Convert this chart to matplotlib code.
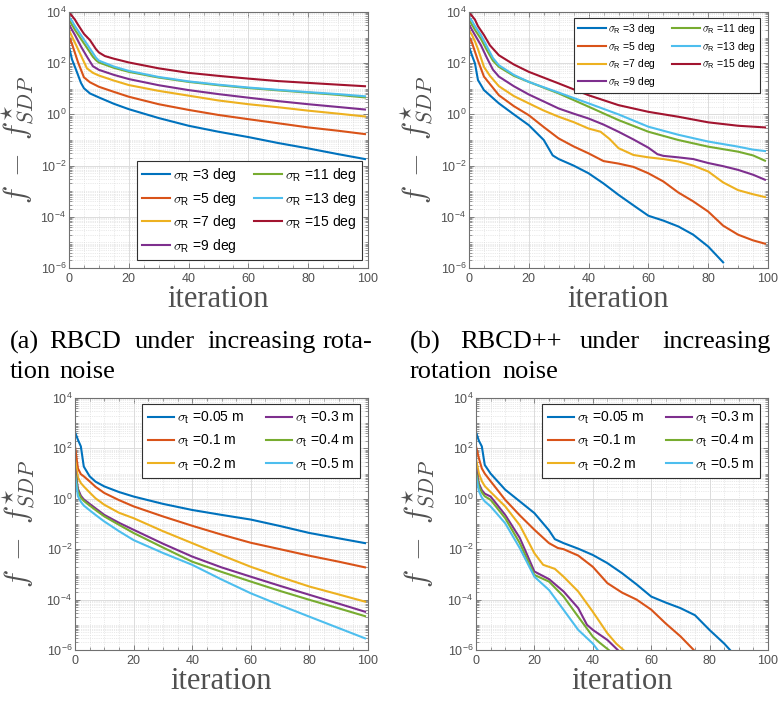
import math
import matplotlib
matplotlib.use('Agg')
import matplotlib.pyplot as plt
from matplotlib.ticker import FixedLocator, MultipleLocator, FuncFormatter, LogLocator, NullFormatter

plt.rcParams['font.family'] = ['Liberation Sans', 'DejaVu Sans']
plt.rcParams['mathtext.fontset'] = 'cm'

# MATLAB default colour order
colors = ['#0072BD', '#D95319', '#EDB120', '#7E2F8E', '#77AC30', '#4DBEEE', '#A2142F']

# ---- (a) RBCD, rotation noise ----
rot_labels = ['3', '5', '7', '9', '11', '13', '15']
a_it = [
    [0, 1, 2, 3, 4, 5, 7, 10, 15, 20, 30, 40, 50, 60, 70, 80, 90, 99],
    [0, 1, 2, 3, 5, 7, 10, 15, 20, 30, 40, 50, 60, 70, 80, 90, 99],
    [0, 1, 2, 4, 6, 8, 10, 15, 20, 30, 40, 50, 60, 70, 80, 90, 99],
    [0, 1, 2, 4, 6, 8, 10, 15, 20, 30, 40, 50, 60, 70, 80, 90, 99],
    [0, 1, 2, 4, 6, 8, 9, 10, 15, 20, 30, 40, 50, 60, 70, 80, 90, 99],
    [0, 1, 2, 4, 6, 8, 9, 10, 15, 20, 30, 40, 50, 60, 70, 80, 90, 99],
    [0, 1, 2, 3, 5, 7, 9, 10, 12, 15, 20, 30, 40, 50, 60, 70, 80, 90, 99],
]
a_val = [
    [440, 140, 71, 35, 17, 10.5, 6.6, 4.6, 2.6, 1.6, 0.72, 0.36, 0.21, 0.13, 0.076, 0.047, 0.028, 0.018],
    [1100, 560, 250, 110, 28, 18, 12, 7.6, 4.9, 2.5, 1.5, 0.95, 0.65, 0.45, 0.31, 0.23, 0.17],
    [1950, 1100, 630, 200, 63, 42, 33, 21, 14, 8.3, 5.4, 3.5, 2.5, 1.9, 1.4, 1.07, 0.83],
    [3300, 2000, 1260, 450, 180, 76, 55, 35, 24, 13.8, 8.9, 6.2, 4.5, 3.3, 2.5, 1.95, 1.55],
    [4800, 3200, 2000, 890, 400, 178, 132, 107, 66, 46, 27.5, 18.6, 13.8, 10.7, 8.7, 7.1, 5.8, 4.6],
    [6300, 4500, 2800, 1260, 560, 250, 166, 126, 74, 50, 29, 19.5, 14.5, 11.2, 9.1, 7.4, 6.2, 5.1],
    [9100, 7100, 5000, 3200, 1400, 800, 355, 263, 190, 150, 107, 63, 42, 32, 25, 20, 17, 14.5, 12.6],
]

# ---- (b) RBCD++, rotation noise ----
b_it = [
    [0, 1, 2, 3, 5, 10, 15, 20, 25, 28, 30, 35, 40, 45, 50, 55, 60, 65, 70, 75, 80, 85],
    [0, 1, 2, 3, 5, 10, 15, 20, 25, 30, 35, 40, 45, 50, 55, 60, 65, 70, 75, 80, 85, 90, 95, 99],
    [0, 1, 2, 3, 5, 7, 10, 15, 20, 25, 30, 35, 40, 44, 47, 50, 55, 60, 65, 70, 75, 80, 85, 90, 95, 99],
    [0, 1, 2, 4, 6, 8, 10, 15, 20, 25, 30, 35, 40, 45, 50, 55, 60, 63, 65, 70, 75, 80, 85, 90, 95, 99],
    [0, 1, 2, 4, 6, 8, 10, 15, 20, 30, 40, 50, 60, 70, 80, 90, 95, 99],
    [0, 1, 2, 4, 6, 8, 10, 15, 20, 30, 40, 50, 60, 70, 80, 90, 95, 99],
    [0, 1, 2, 3, 5, 7, 10, 15, 20, 30, 40, 50, 60, 70, 80, 90, 99],
]
b_val = [
    [440, 200, 98, 22, 8.9, 2.7, 1.0, 0.38, 0.1, 0.025, 0.018, 0.01, 0.005, 0.002, 7.2e-4, 2.8e-4,
     1.1e-4, 7.1e-5, 4.2e-5, 2.0e-5, 6.9e-6, 1.66e-6],
    [1100, 630, 280, 126, 30, 5.6, 2.1, 0.93, 0.32, 0.115, 0.056, 0.030, 0.015, 0.012, 0.0089, 0.005,
     0.0024, 8.9e-4, 4.0e-4, 1.6e-4, 4.5e-5, 2.0e-5, 1.2e-5, 8.9e-6],
    [1950, 1260, 710, 355, 72, 32, 12.6, 5.2, 2.7, 1.41, 0.81, 0.5, 0.28, 0.21, 0.11, 0.048, 0.026,
     0.021, 0.018, 0.0145, 0.01, 0.0059, 0.0022, 0.0011, 7.6e-4, 5.9e-4],
    [3300, 2000, 1260, 500, 160, 56, 30, 12.6, 6.0, 3.2, 1.7, 1.07, 0.69, 0.4, 0.21, 0.105, 0.05,
     0.028, 0.024, 0.021, 0.018, 0.0126, 0.0095, 0.0068, 0.0044, 0.0028],
    [4800, 3200, 2000, 890, 320, 126, 72, 32, 18.6, 6.6, 2.0, 0.6, 0.21, 0.1, 0.055, 0.035, 0.025, 0.0155],
    [6300, 4500, 2800, 1260, 450, 160, 83, 35, 18.6, 7.1, 2.7, 1.0, 0.33, 0.16, 0.087, 0.055, 0.042, 0.037],
    [9100, 7100, 5000, 2800, 1260, 500, 204, 89, 46, 16.2, 5.6, 2.3, 1.26, 0.81, 0.49, 0.36, 0.31],
]

# ---- (c) RBCD, translation noise ----
trans_labels = ['0.05', '0.1', '0.2', '0.3', '0.4', '0.5']
trans_colors = [colors[0], colors[1], colors[2], colors[3], colors[4], colors[5]]
c_it = [0, 1, 2, 3, 5, 7, 10, 15, 20, 30, 40, 50, 60, 70, 80, 90, 99]
c_val = [
    [440, 220, 120, 19, 7.8, 4.8, 3.1, 1.86, 1.23, 0.63, 0.36, 0.23, 0.15, 0.083, 0.044, 0.027, 0.0174],
    [120, 16, 9.5, 7.8, 4.9, 3.0, 1.7, 0.89, 0.5, 0.2, 0.085, 0.038, 0.018, 0.01, 0.0055, 0.0032, 0.0019],
    [38, 7.1, 4.2, 3.1, 1.78, 1.05, 0.58, 0.28, 0.17, 0.052, 0.0174, 0.0058, 0.002, 7.9e-4, 3.3e-4, 1.6e-4, 8.3e-5],
    [16.6, 2.5, 1.32, 0.95, 0.63, 0.42, 0.23, 0.112, 0.059, 0.0166, 0.0051, 0.0019, 8.1e-4, 3.5e-4, 1.55e-4, 6.9e-5, 3.3e-5],
    [12.3, 2.0, 1.12, 0.83, 0.54, 0.36, 0.2, 0.093, 0.044, 0.0117, 0.0032, 0.00126, 5.2e-4, 2.2e-4, 9.8e-5, 4.5e-5, 2.2e-5],
    [8.9, 1.26, 0.76, 0.54, 0.35, 0.23, 0.126, 0.052, 0.023, 0.0071, 0.0024, 6.3e-4, 1.78e-4, 6.0e-5, 2.1e-5, 7.4e-6, 2.9e-6],
]

# ---- (d) RBCD++, translation noise ----
d_it = [
    [0, 1, 2, 3, 5, 10, 15, 20, 25, 27, 30, 35, 40, 45, 50, 55, 60, 65, 70, 75, 80, 85, 87],
    [0, 1, 2, 3, 5, 10, 15, 20, 25, 28, 30, 35, 40, 45, 50, 55, 60, 65, 70, 75],
    [0, 1, 2, 3, 5, 10, 15, 20, 23, 27, 30, 35, 40, 45, 48, 51],
    [0, 1, 2, 3, 5, 10, 15, 20, 25, 30, 35, 38, 40, 45, 49],
    [0, 1, 2, 3, 5, 10, 15, 20, 25, 30, 35, 40, 42, 46],
    [0, 1, 2, 3, 5, 10, 15, 20, 25, 30, 35, 40, 42],
]
d_val = [
    [440, 200, 120, 22, 10, 2.3, 0.79, 0.27, 0.056, 0.025, 0.0174, 0.0105, 0.0059, 0.0028, 0.00112,
     4.0e-4, 1.32e-4, 7.6e-5, 4.6e-5, 2.4e-5, 6.2e-6, 1.8e-6, 1.0e-6],
    [120, 40, 16, 10, 5.0, 0.91, 0.22, 0.059, 0.0174, 0.0112, 0.01, 0.0056, 0.002, 4.5e-4, 1.9e-4,
     1.0e-4, 4.0e-5, 1.12e-5, 3.5e-6, 8.9e-7],
    [38, 10, 5.0, 3.2, 1.86, 0.5, 0.089, 0.0069, 0.0024, 0.00166, 8.1e-4, 2.1e-4, 3.3e-5, 4.6e-6, 1.8e-6, 8.9e-7],
    [16.6, 4.0, 2.2, 1.6, 1.23, 0.23, 0.028, 0.0013, 6.5e-4, 2.1e-4, 4.6e-5, 1.0e-5, 6.3e-6, 2.5e-6, 8.9e-7],
    [12.3, 3.2, 1.8, 1.26, 0.91, 0.17, 0.0174, 9.5e-4, 5.2e-4, 1.32e-4, 2.1e-5, 3.4e-6, 2.1e-6, 8.9e-7],
    [8.9, 2.0, 1.12, 0.79, 0.5, 0.107, 0.011, 8.1e-4, 2.4e-4, 3.9e-5, 6.3e-6, 1.8e-6, 8.9e-7],
]

axis_gray = '#707070'
text_gray = '#505050'


def log_label(v, pos):
    return r'$\mathregular{10^{%d}}$' % round(math.log10(v))


def style_axes(ax, ylab_x):
    ax.set_yscale('log')
    ax.set_xlim(0, 100)
    ax.set_ylim(1e-6, 1e4)
    ax.xaxis.set_major_locator(MultipleLocator(20))
    ax.xaxis.set_minor_locator(MultipleLocator(5))
    ax.yaxis.set_major_locator(FixedLocator([1e-6, 1e-4, 1e-2, 1e0, 1e2, 1e4]))
    ax.yaxis.set_minor_locator(LogLocator(base=10, subs=range(1, 10), numticks=30))
    ax.yaxis.set_minor_formatter(NullFormatter())
    ax.yaxis.set_major_formatter(FuncFormatter(log_label))
    ax.tick_params(which='both', direction='in', top=True, right=True, colors=axis_gray,
                   labelcolor=text_gray, labelsize=9)
    ax.tick_params(axis='y', pad=2)
    ax.tick_params(which='major', length=3.5, width=0.6)
    ax.tick_params(which='minor', length=2, width=0.5)
    ax.grid(True, which='major', color='#dcdcdc', linewidth=0.7)
    ax.grid(True, which='minor', color='#d6d6d6', linewidth=0.5, linestyle=':')
    ax.set_axisbelow(True)
    for s in ax.spines.values():
        s.set_color(axis_gray)
        s.set_linewidth(0.8)
    ax.set_xlabel('iteration', family='Liberation Serif', fontsize=22, color=text_gray, labelpad=0)
    ax.set_ylabel(r'$f\;-\;f^{\star}_{SDP}$', fontsize=22, color=text_gray)
    ax.yaxis.set_label_coords(ylab_x, 0.5)


fig = plt.figure(figsize=(7.78, 7.05), dpi=100)
W, H = 778.0, 705.0


def add_ax(x0, y0, x1, y1):
    return fig.add_axes([x0 / W, 1 - y1 / H, (x1 - x0) / W, (y1 - y0) / H])


ax_a = add_ax(69, 12, 368, 268)
ax_b = add_ax(469, 12, 768, 268)
ax_c = add_ax(75, 398, 368, 650)
ax_d = add_ax(476, 398, 768, 650)

for i in range(7):
    lab = r'$\sigma_{\mathregular{R}}$ =' + rot_labels[i] + ' deg'
    ax_a.plot(a_it[i], a_val[i], color=colors[i], linewidth=1.5, label=lab)
    ax_b.plot(b_it[i], b_val[i], color=colors[i], linewidth=1.5, label=lab)

for i in range(6):
    lab = r'$\sigma_{\mathregular{t}}$ =' + trans_labels[i] + ' m'
    ax_c.plot(c_it, c_val[i], color=trans_colors[i], linewidth=1.5, label=lab)
    ax_d.plot(d_it[i], d_val[i], color=trans_colors[i], linewidth=1.5, label=lab)

style_axes(ax_a, (37 - 69) / 299)
style_axes(ax_b, (436 - 469) / 299)
style_axes(ax_c, (38 - 75) / 293)
style_axes(ax_d, (438 - 476) / 292)

leg_kw = dict(ncol=2, fancybox=False, framealpha=1, edgecolor='#303030', borderaxespad=0,
              handletextpad=0.2)
la = ax_a.legend(loc='lower right', bbox_to_anchor=(0.98, 0.03), fontsize=10, handlelength=2.0,
                 labelspacing=0.4, columnspacing=1.3, **leg_kw)
lb = ax_b.legend(loc='upper right', bbox_to_anchor=(0.973, 0.977), fontsize=7.5, handlelength=2.7,
                 labelspacing=0.35, columnspacing=1.5, **leg_kw)
lc = ax_c.legend(loc='upper right', bbox_to_anchor=(0.973, 0.976), fontsize=10, handlelength=1.9,
                 labelspacing=0.5, columnspacing=1.6, **leg_kw)
ld = ax_d.legend(loc='upper right', bbox_to_anchor=(0.973, 0.976), fontsize=10, handlelength=1.9,
                 labelspacing=0.5, columnspacing=1.6, **leg_kw)
for lg in [la, lb, lc, ld]:
    lg.get_frame().set_linewidth(0.8)

# captions (justified word placement)
cap_kw = dict(family='Liberation Serif', fontsize=19, color='black', va='center', ha='left')
cap_line1 = [('(a)', 10), ('RBCD', 49), ('under', 135), ('increasing', 207), ('rota-', 323),
             ('(b)', 410), ('RBCD++', 460), ('under', 580), ('increasing', 662)]
cap_line2 = [('tion', 10), ('noise', 59), ('rotation', 410), ('noise', 502)]
for word, x in cap_line1:
    fig.text(x / W, 1 - 342 / H, word, **cap_kw)
for word, x in cap_line2:
    fig.text(x / W, 1 - 372 / H, word, **cap_kw)

fig.savefig('out.png', dpi=100)
